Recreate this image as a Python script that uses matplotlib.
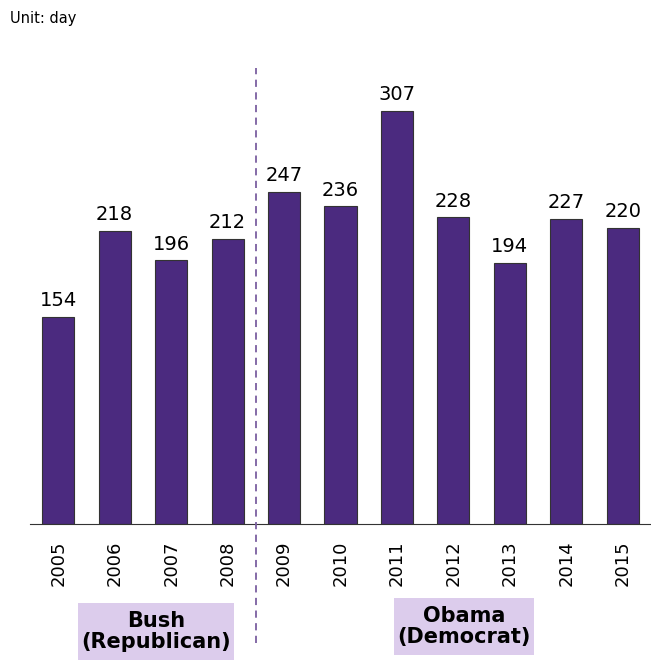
import matplotlib
matplotlib.use("Agg")
import matplotlib.pyplot as plt
import matplotlib.transforms as mtransforms
from matplotlib.patches import Rectangle
from matplotlib.lines import Line2D

years = ["2005", "2006", "2007", "2008", "2009", "2010",
         "2011", "2012", "2013", "2014", "2015"]
days = [154, 218, 196, 212, 247, 236, 307, 228, 194, 227, 220]

bar_color = "#4B2A7F"
box_color = "#DCCCEC"

fig = plt.figure(figsize=(6.51, 6.64), dpi=100)
ax = fig.add_axes([30 / 651, 1 - 524 / 664, 621 / 651, 444 / 664])

x = range(len(years))
bars = ax.bar(x, days, width=0.57, color=bar_color, edgecolor="#333333", linewidth=0.8)
for xi, v in zip(x, days):
    ax.text(xi, v + 5, str(v), ha="center", va="bottom", fontsize=14)

ax.set_xlim(-0.5, 10.5)
ax.set_ylim(0, 330)
ax.set_xticks(list(x))
ax.set_xticklabels(years, rotation=90, fontsize=13)
ax.tick_params(axis="x", length=0, pad=12)
ax.set_yticks([])
for s in ["top", "right", "left"]:
    ax.spines[s].set_visible(False)
ax.spines["bottom"].set_color("#333333")

# dashed separator between Bush and Obama
trans = mtransforms.blended_transform_factory(ax.transData, fig.transFigure)
fig.add_artist(Line2D([3.5, 3.5], [1 - 643 / 664, 1 - 68 / 664], transform=trans,
                      color="#7B5FA0", linestyle=(0, (4, 3)), linewidth=1.3))

# party boxes
def party_box(x0, y0, x1, y1, label):
    fig.add_artist(Rectangle((x0 / 651, 1 - y1 / 664), (x1 - x0) / 651, (y1 - y0) / 664,
                             transform=fig.transFigure, facecolor=box_color, edgecolor="none"))
    fig.text((x0 + x1) / 2 / 651, 1 - (y0 + y1) / 2 / 664, label, ha="center", va="center",
             fontsize=15, fontweight="bold", linespacing=1.1)

party_box(78, 603, 234, 660, "Bush\n(Republican)")
party_box(394, 598, 534, 655, "Obama\n(Democrat)")

fig.text(10 / 651, 1 - 18 / 664, "Unit: day", fontsize=10.5, va="center")

fig.savefig("out.png", dpi=100)
